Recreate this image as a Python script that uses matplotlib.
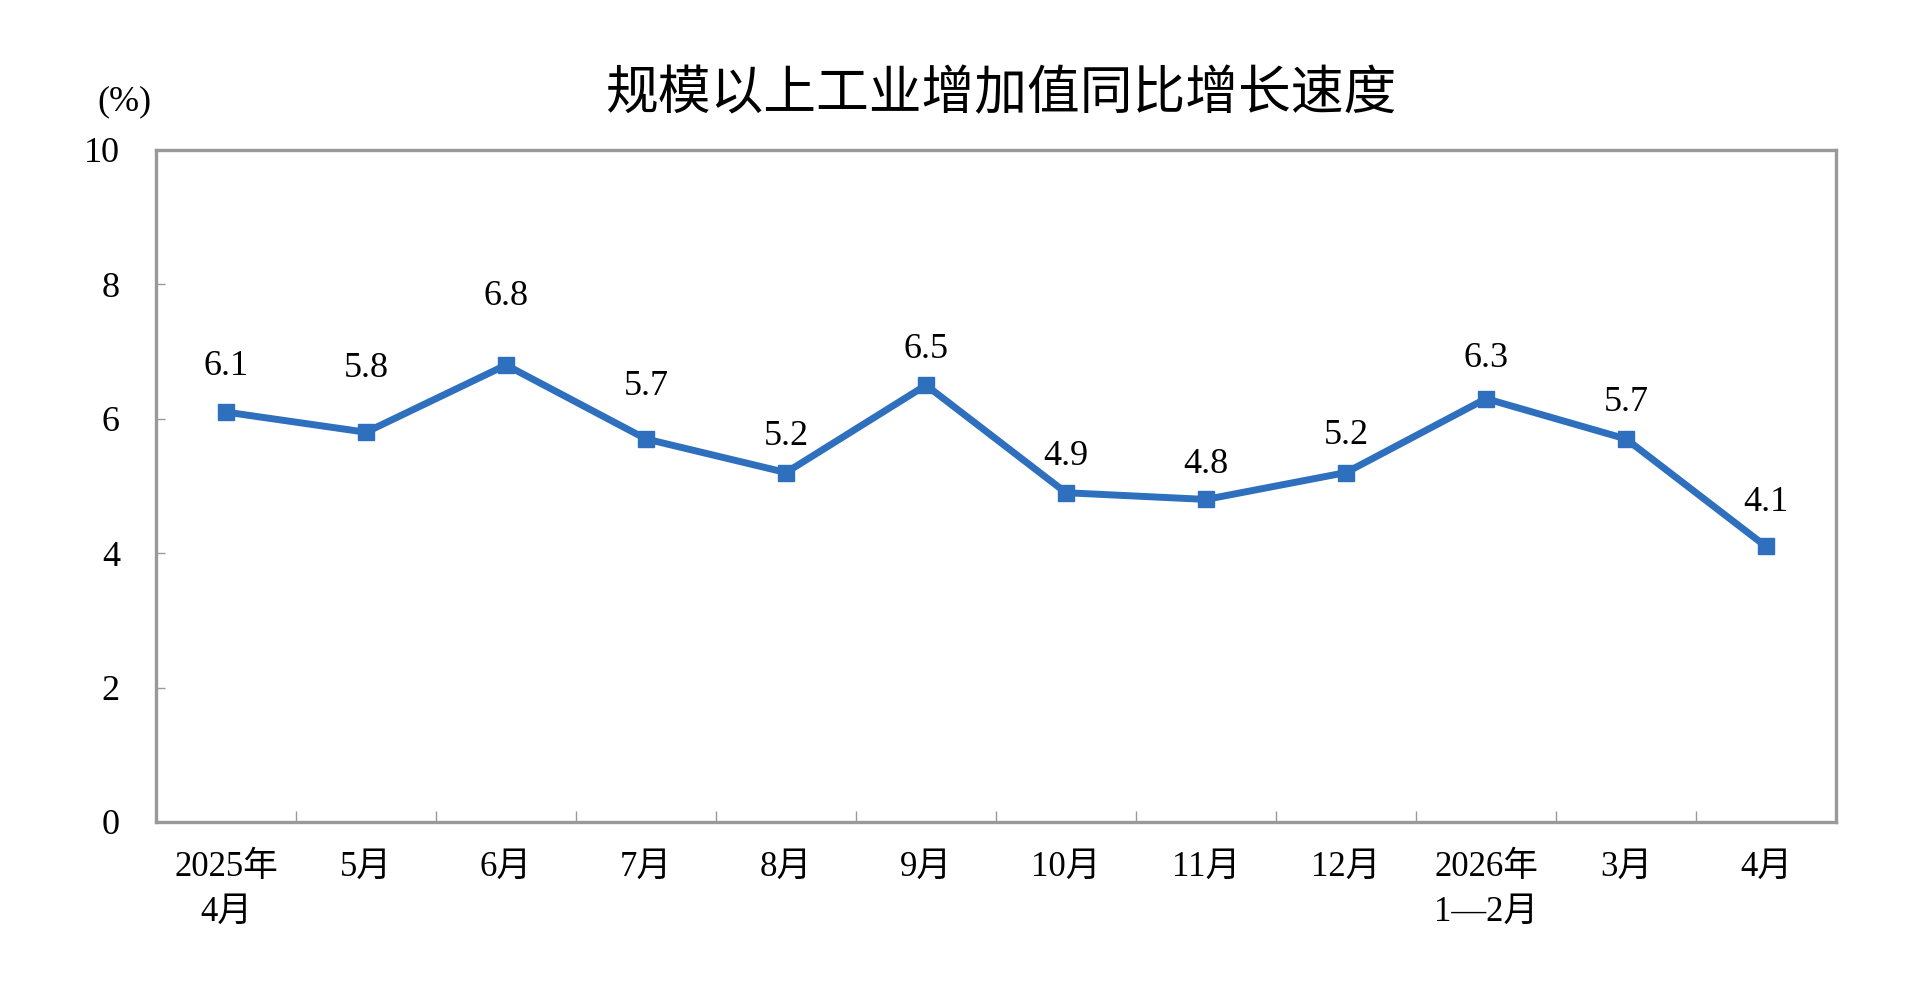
import numpy as np
from matplotlib import pyplot as plt

# 月份标签和同比增速(%)
months = ['2025年\n4月', '5月', '6月', '7月', '8月', '9月', '10月', '11月',
          '12月', '2026年\n1—2月', '3月', '4月']
growth = [6.1, 5.8, 6.8, 5.7, 5.2, 6.5, 4.9, 4.8, 5.2, 6.3, 5.7, 4.1]
y_ticks = [0, 2, 4, 6, 8, 10]

# how far above each point the value label sits (points)
label_dy = [33, 46, 49, 38, 26, 26, 26, 25, 27, 29, 26, 32]

serif = ['Liberation Serif', 'Noto Sans CJK SC']
blue = '#2E6FBE'
grey = '#999999'

plt.close('all')
fig = plt.figure(figsize=(19.2, 9.96), dpi=100)
ax = fig.add_axes([0.08125, 0.1747, 0.875, 0.6747])

x = np.arange(len(months))
ax.plot(x, growth, color=blue, lw=5, marker='s', markersize=12,
        solid_joinstyle='miter')

for xi, v, dy in zip(x, growth, label_dy):
    ax.annotate(f'{v:.1f}', (xi, v), xytext=(0, dy), textcoords='offset points',
                ha='center', va='center', fontsize=26, family=serif)

ax.set_xlim(-0.5, len(months) - 0.5)
ax.set_ylim(0, 10)
ax.set_yticks(y_ticks)
ax.set_yticklabels([str(t) for t in y_ticks], fontsize=26, family=serif)
ax.set_xticks(x)
ax.set_xticklabels(months, fontsize=25, family=serif, linespacing=1.45)
ax.set_xticks(x[:-1] + 0.5, minor=True)

ax.tick_params(axis='x', which='major', length=0, pad=21)
ax.tick_params(axis='x', which='minor', direction='in', length=8, width=1, color=grey)
ax.tick_params(axis='y', direction='in', length=6.5, width=1, color=grey, pad=26)

for s in ax.spines.values():
    s.set_color(grey)
    s.set_linewidth(2.4)

fig.text(0.5214, 0.9056, '规模以上工业增加值同比增长速度', ha='center', va='center',
         fontsize=38, fontweight='medium', family=['Noto Sans CJK SC', 'DejaVu Sans'])
fig.text(0.0646, 0.8976, '(%)', ha='center', va='center', fontsize=26, family=serif)

plt.savefig('out.png')
